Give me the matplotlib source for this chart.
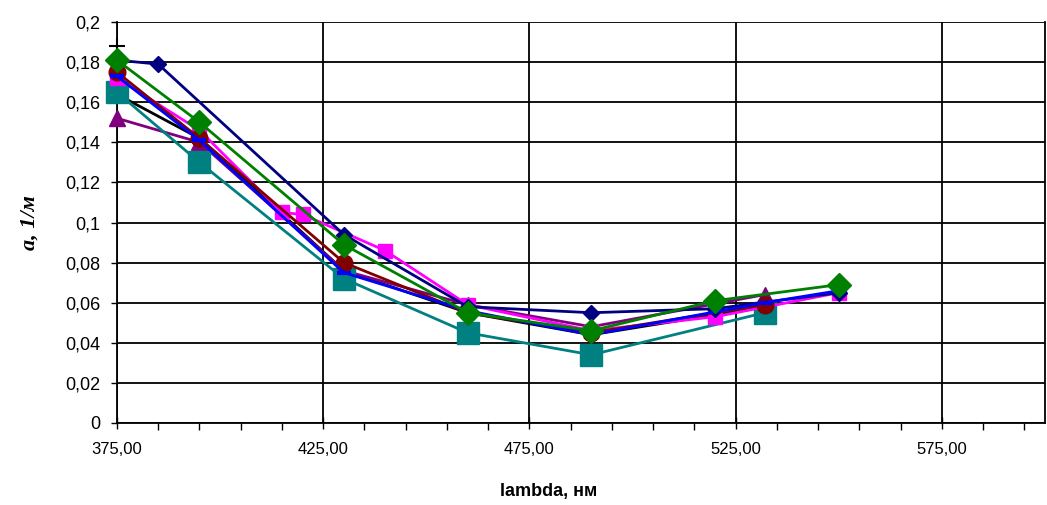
import numpy as np
import matplotlib
matplotlib.use('Agg')
import matplotlib.pyplot as plt
from matplotlib.ticker import FixedLocator, FuncFormatter, MultipleLocator

# wavelengths (nm) and absorption per series
navy_x = [375, 385, 430, 460, 490, 520, 550]
navy_y = [0.181, 0.179, 0.094, 0.058, 0.055, 0.057, 0.065]

magenta_x = [375, 395, 415, 420, 440, 460, 490, 520, 550]
magenta_y = [0.172, 0.146, 0.105, 0.104, 0.086, 0.059, 0.046, 0.053, 0.065]

black_x = [375, 395, 430, 460, 490, 532]
black_y = [0.164, 0.142, 0.076, 0.055, 0.044, 0.058]

purple_x = [375, 395, 430, 460, 490, 532]
purple_y = [0.152, 0.140, 0.076, 0.059, 0.048, 0.064]

blue_x = [375, 395, 430, 460, 490, 532, 550]
blue_y = [0.173, 0.141, 0.075, 0.056, 0.044, 0.060, 0.066]

green_x = [375, 395, 430, 460, 490, 520, 550]
green_y = [0.181, 0.150, 0.089, 0.055, 0.046, 0.061, 0.069]

maroon_x = [375, 395, 430, 460, 490, 532]
maroon_y = [0.175, 0.142, 0.080, 0.055, 0.045, 0.059]

teal_x = [375, 395, 430, 460, 490, 532]
teal_y = [0.165, 0.130, 0.072, 0.045, 0.034, 0.055]

plus_x = [375]
plus_y = [0.188]

x_major = [375, 425, 475, 525, 575]

fig = plt.figure(figsize=(10.47, 5.05), dpi=100)
ax = fig.add_axes([0.1117, 0.1624, 0.8865, 0.794])

lw = 2.0
ax.plot(black_x, black_y, color='black', lw=lw, zorder=3, clip_on=False)
ax.plot(plus_x, plus_y, color='black', marker='+', ms=12, mew=1.5, ls='none', zorder=3, clip_on=False)
ax.plot(purple_x, purple_y, color='#800080', lw=lw, marker='^', ms=12, zorder=3, clip_on=False)
ax.plot(teal_x, teal_y, color='#008080', lw=lw, marker='s', ms=16, zorder=3, clip_on=False)
ax.plot(magenta_x, magenta_y, color='#FF00FF', lw=lw, marker='s', ms=10, zorder=4, clip_on=False)
ax.plot(maroon_x, maroon_y, color='#800000', lw=lw, marker='o', ms=12, zorder=4, clip_on=False)
ax.plot(navy_x, navy_y, color='#000080', lw=lw, marker='D', ms=8.5, zorder=4, clip_on=False)
ax.plot(blue_x, blue_y, color='#0000FF', lw=lw, marker='_', ms=10, mew=3, zorder=5, clip_on=False)
ax.plot(green_x, green_y, color='#008000', lw=lw, marker='D', ms=12, zorder=5, clip_on=False)

ax.set_xlim(375, 600)
ax.set_ylim(0, 0.2)
ax.xaxis.set_major_locator(FixedLocator(x_major))
ax.xaxis.set_minor_locator(FixedLocator(np.arange(375, 601, 10)))
ax.yaxis.set_major_locator(MultipleLocator(0.02))

ax.xaxis.set_major_formatter(FuncFormatter(lambda v, p: f'{v:.2f}'.replace('.', ',')))
ax.yaxis.set_major_formatter(FuncFormatter(lambda v, p: f'{round(v, 2):g}'.replace('.', ',')))

ax.grid(True, which='major', color='black', lw=1.3, zorder=1)
ax.set_axisbelow(True)
for s in ax.spines.values():
    s.set_color('black')
    s.set_linewidth(1.3)
ax.spines['top'].set_visible(False)

ax.tick_params(axis='y', direction='out', length=4, width=1, labelsize=13, pad=8)
ax.tick_params(axis='x', which='major', direction='inout', length=8, width=1, pad=10)
ax.tick_params(axis='x', which='minor', direction='out', length=5, width=1)
for lab in ax.get_yticklabels():
    lab.set_family(['Liberation Sans', 'DejaVu Sans'])
for lab in ax.get_xticklabels():
    lab.set_family(['Liberation Sans Narrow', 'Liberation Sans', 'DejaVu Sans'])
    lab.set_fontsize(12)

ax.set_xlabel('lambda, нм', fontsize=13, fontweight='bold',
              family=['Liberation Sans Narrow', 'Liberation Sans', 'DejaVu Sans'])
ax.xaxis.set_label_coords(0.465, -0.15)
ax.set_ylabel('a, 1/м', fontsize=16, fontweight='bold', style='italic',
              family=['Liberation Serif', 'DejaVu Serif'])
ax.yaxis.set_label_coords(-0.083, 0.5)

fig.savefig('out.png', dpi=100)
